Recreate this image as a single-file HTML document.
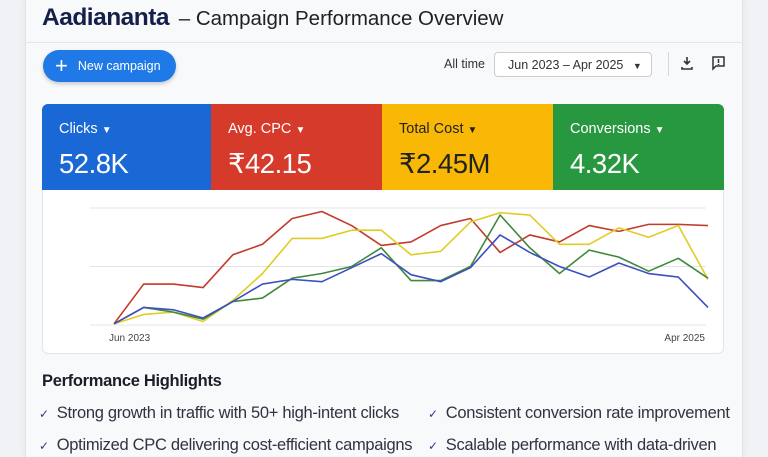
<!DOCTYPE html>
<html><head><meta charset="utf-8"><style>
*{box-sizing:border-box;margin:0;padding:0}
html,body{width:768px;height:457px;overflow:hidden}
body{background:#f1f2f5;font-family:"Liberation Sans",sans-serif;position:relative}
.card{position:absolute;left:25px;top:-10px;width:718px;height:467px;background:#f8f9fb;border:1px solid #e3e5ea;border-bottom:none;border-radius:10px 10px 0 0;box-shadow:0 0 8px rgba(0,0,0,.06)}
.abs{position:absolute}
.title{left:42px;top:4px;font-size:20.5px;color:#202124;white-space:nowrap}
.title b{color:#14204a;font-size:24.5px;letter-spacing:-0.5px;margin-right:4px}
.divider{left:26px;top:42px;width:716px;height:1px;background:#e4e6ea}
.btn{left:43px;top:50px;width:133px;height:32px;border-radius:16px;background:#1f7ae8;color:#fff;font-size:12.5px;box-shadow:0 2px 4px rgba(0,0,0,.2);display:flex;align-items:center;padding-left:12px}
.btn span.plus{font-size:22px;margin-right:10px;line-height:1}
.kpi{top:104px;height:86px;color:#fff}
.kpi .lbl{position:absolute;left:17px;top:17px;font-size:14.5px}
.kpi .val{position:absolute;left:17px;top:44px;font-size:27.5px;letter-spacing:-0.5px}
.hl{font-size:16.5px;color:#303340;white-space:nowrap;letter-spacing:-0.3px}
.hl i{font-style:normal;color:#2b3a8c;font-size:12px;margin-right:8px}
</style></head><body>
<div class="card"></div>
<div class="abs title"><b>Aadiananta</b> – Campaign Performance Overview</div>
<div class="abs divider"></div>
<div class="abs btn"><span class="plus">+</span>New campaign</div>
<div class="abs" style="left:444px;top:57px;font-size:12.5px;color:#333">All time</div>
<div class="abs" style="left:494px;top:52px;width:158px;height:25px;border:1px solid #c9ccd2;border-radius:4px;background:#fff;font-size:12.5px;color:#333;padding:5px 0 0 13px">Jun 2023 – Apr 2025 <span style="font-size:9px;margin-left:6px">▼</span></div>
<div class="abs" style="left:668px;top:52px;width:1px;height:24px;background:#d5d7dc"></div>
<svg class="abs" style="left:680px;top:56px" width="14" height="14"><path d="M7 1v7M4 5l3 3 3-3M2 11v2h10v-2" stroke="#333" stroke-width="1.6" fill="none"/></svg>
<svg class="abs" style="left:711px;top:56px" width="15" height="15"><path d="M2 1h11v9H5l-3 3z" stroke="#333" stroke-width="1.5" fill="none"/><path d="M7.5 3v4M7.5 8v1" stroke="#333" stroke-width="1.5"/></svg>

<div class="abs kpi" style="left:42px;width:169px;background:#1a67d6;border-radius:6px 0 0 0"><div class="lbl">Clicks <span style="font-size:10px">▼</span></div><div class="val">52.8K</div></div>
<div class="abs kpi" style="left:211px;width:171px;background:#d63a2a"><div class="lbl">Avg. CPC <span style="font-size:10px">▼</span></div><div class="val">₹42.15</div></div>
<div class="abs kpi" style="left:382px;width:171px;background:#f8b805;color:#222"><div class="lbl">Total Cost <span style="font-size:10px">▼</span></div><div class="val">₹2.45M</div></div>
<div class="abs kpi" style="left:553px;width:171px;background:#27983f;border-radius:0 6px 0 0"><div class="lbl">Conversions <span style="font-size:10px">▼</span></div><div class="val">4.32K</div></div>

<div class="abs" style="left:42px;top:190px;width:682px;height:164px;background:#fff;border:1px solid #e2e4e8;border-top:none;border-radius:0 0 6px 6px"></div>
<svg id="chart" class="abs" style="left:0;top:0" width="768" height="457"></svg>

<div class="abs" style="left:42px;top:372px;font-size:16.5px;font-weight:bold;color:#1b1d2a;letter-spacing:-0.3px">Performance Highlights</div>
<div class="abs hl" style="left:39px;top:404px"><i>✓</i>Strong growth in traffic with 50+ high-intent clicks</div>
<div class="abs hl" style="left:428px;top:404px"><i>✓</i>Consistent conversion rate improvement</div>
<div class="abs hl" style="left:39px;top:436px"><i>✓</i>Optimized CPC delivering cost-efficient campaigns</div>
<div class="abs hl" style="left:428px;top:436px"><i>✓</i>Scalable performance with data-driven</div>

<script>
const months = ["Jun 2023","Jul 2023","Aug 2023","Sep 2023","Oct 2023","Nov 2023","Dec 2023","Jan 2024","Feb 2024","Mar 2024","Apr 2024","May 2024","Jun 2024","Jul 2024","Aug 2024","Sep 2024","Oct 2024","Nov 2024","Dec 2024","Feb 2025","Apr 2025"];
const xTickLabels = ["Jun 2023","Apr 2025"];
const gridValues = [0,50,100];
const cpcValues = [1,35,35,32,60,69,91,97,85,68,71,85,91,62,77,71,85,80,86,86,85];
const costValues = [1,9,11,3,21,44,74,74,81,81,60,63,88,96,94,69,69,83,75,85,39];
const conversionValues = [1,15,11,5,20,23,40,44,50,66,38,38,50,94,66,44,64,58,46,57,40];
const clickValues = [1,15,13,6,20,35,39,37,49,61,43,37,49,77,62,50,41,53,44,41,15];

const svg = document.getElementById('chart');
const NS = 'http://www.w3.org/2000/svg';
const x0 = 114, x1 = 708, yBase = 325, yTop = 208;
function xScale(i){ return x0 + (x1 - x0) * i / (months.length - 1); }
function yScale(v){ return yBase - (yBase - yTop) * v / 100; }

gridValues.forEach(function(g){
  const l = document.createElementNS(NS,'line');
  l.setAttribute('x1',90); l.setAttribute('x2',706);
  l.setAttribute('y1',yScale(g)); l.setAttribute('y2',yScale(g));
  l.setAttribute('stroke','#e3e4e8'); l.setAttribute('stroke-width','1');
  
  
  svg.appendChild(l);
});

xTickLabels.forEach(function(lbl){
  const i = months.indexOf(lbl);
  const t = document.createElementNS(NS,'text');
  t.setAttribute('x', i === 0 ? xScale(i) - 5 : xScale(i) - 3);
  t.setAttribute('y', 341);
  t.setAttribute('text-anchor', i === 0 ? 'start' : 'end');
  t.setAttribute('font-size','10');
  t.setAttribute('fill','#444');
  t.setAttribute('font-family','Liberation Sans, sans-serif');
  t.textContent = lbl;
  
  
  svg.appendChild(t);
});

function drawLine(vals, color, name){
  const p = document.createElementNS(NS,'polyline');
  p.setAttribute('points', vals.map(function(v,i){ return xScale(i)+','+yScale(v); }).join(' '));
  p.setAttribute('fill','none'); p.setAttribute('stroke',color); p.setAttribute('stroke-width','1.6');
  p.setAttribute('stroke-linejoin','round');
  
  
  svg.appendChild(p);
}
drawLine(cpcValues,'#c23b2c','cpc-line');
drawLine(costValues,'#e0cc22','cost-line');
drawLine(conversionValues,'#3f8a3a','conversions-line');
drawLine(clickValues,'#3e4fc0','clicks-line');
</script>
</body></html>
